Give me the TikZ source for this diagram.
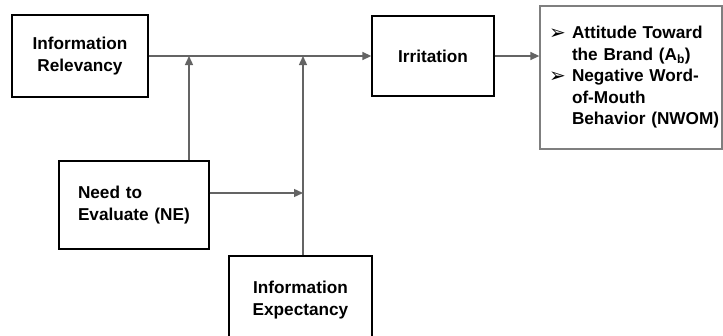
\documentclass[tikz,border=0pt]{standalone}
\usepackage{fontspec}
\setmainfont{Liberation Sans}
\newfontfamily\bulfont{DejaVu Sans}
\usetikzlibrary{arrows.meta}
\definecolor{linkgray}{HTML}{646464}
\definecolor{framegray}{HTML}{7F7F7F}
% list bullet and the matching hanging indent
\newcommand{\bul}{\hspace*{4.5pt}\makebox[23pt][l]{\bulfont\fontsize{20}{20}\selectfont\raisebox{-0.5pt}{➢}}}
\newcommand{\hang}{\hspace*{27.5pt}}
\begin{document}
\begin{tikzpicture}[x=1pt,y=-1pt,
  box/.style={draw=black,line width=1.3pt,rectangle,inner sep=0pt,
    font=\fontsize{17.2}{22}\selectfont\bfseries},
  link/.style={draw=linkgray,line width=1.4pt,
    -{Triangle[length=9pt,width=8pt]}}]
\useasboundingbox (0,0) rectangle (723,335);

% factor boxes
\node[box,minimum width=136pt,minimum height=82pt,align=center] (IR) at (80,56)
  {Information\\Relevancy};
\node[box,minimum width=122pt,minimum height=80pt,align=center] (Irr) at (433,56)
  {Irritation};
\node[box,minimum width=150pt,minimum height=88pt,text width=112pt,align=left] (NE) at (134,205)
  {Need to\\Evaluate (NE)};
\node[box,minimum width=143pt,minimum height=88pt,align=center] (IE) at (300.5,300)
  {Information\\Expectancy};

% outcome list
\node[box,draw=framegray,minimum width=182pt,minimum height=143pt,
  text width=173pt,align=left,font=\fontsize{17.2}{21.5}\selectfont\bfseries] (Out) at (631,77.5)
  {\bul Attitude Toward\\
   \hang the Brand (A\textsubscript{b})\\
   \bul Negative Word-\\
   \hang of-Mouth\\
   \hang\mbox{Behavior (NWOM)}};

% junctions on the main path
\coordinate (j1) at (189,56);
\coordinate (j2) at (303,56);

% connectors
\draw[link] (IR.east) -- (Irr.west);
\draw[link] (NE.north -| j1) -- (j1);
\draw[link] (IE.north -| j2) -- (j2);
\draw[link] ([yshift=12pt]NE.east) -- ([yshift=12pt]NE.east -| j2);
\draw[link] (Irr.east) -- (Irr.east -| Out.west);
\end{tikzpicture}
\end{document}
